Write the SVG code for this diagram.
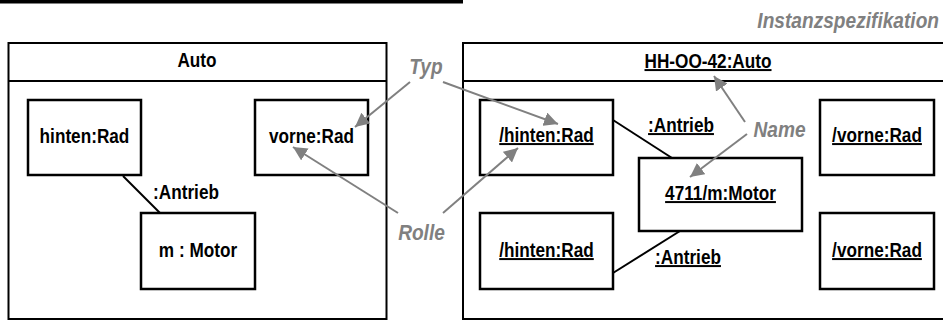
<svg xmlns="http://www.w3.org/2000/svg" width="943" height="320" viewBox="0 0 943 320">
<style>
.frame{fill:none;stroke:#000;stroke-width:2}
.box{fill:#fff;stroke:#000;stroke-width:2.5}
.t{font-family:"Liberation Sans",Arial,sans-serif;font-weight:bold;font-size:20px;fill:#000;text-anchor:middle}
.u{text-decoration:underline}
.g{font-family:"Liberation Sans",Arial,sans-serif;font-weight:bold;font-style:italic;font-size:22.5px;fill:#808080}
.link{stroke:#000;stroke-width:2;fill:none}
.ga{stroke:#808080;stroke-width:2;fill:none;marker-end:url(#ah)}
</style>
<defs>
<marker id="ah" markerUnits="userSpaceOnUse" markerWidth="16" markerHeight="14" refX="14" refY="7" orient="auto">
<path d="M0,0 L14,7 L0,14 Z" fill="#808080"/>
</marker>
</defs>
<rect x="0" y="0" width="463" height="3.5" fill="#000"/>
<text class="g" transform="translate(939 28) scale(0.85 1)" text-anchor="end">Instanzspezifikation</text>

<g id="auto-class">
<rect class="frame" x="8.5" y="43" width="378" height="276"/>
<line class="frame" x1="8.5" y1="81" x2="386.5" y2="81"/>
<text class="t" transform="translate(197 67) scale(0.86 1)">Auto</text>
</g>
<g id="hinten-rad">
<rect class="box" x="28" y="100" width="113" height="75"/>
<text class="t" transform="translate(84.5 143) scale(0.86 1)">hinten:Rad</text>
</g>
<g id="vorne-rad">
<rect class="box" x="255" y="100" width="113" height="75"/>
<text class="t" transform="translate(311.5 143) scale(0.86 1)">vorne:Rad</text>
</g>
<g id="m-motor">
<rect class="box" x="141" y="213" width="114" height="76"/>
<text class="t" transform="translate(198 257) scale(0.86 1)">m : Motor</text>
</g>

<g id="auto-instance">
<rect class="frame" x="463" y="43" width="490" height="276"/>
<line class="frame" x1="463" y1="81" x2="945" y2="81"/>
<text class="t u" transform="translate(708 68) scale(0.86 1)">HH-OO-42:Auto</text>
</g>
<g id="hinten-rad-1">
<rect class="box" x="480" y="100" width="133" height="75"/>
<text class="t u" transform="translate(546.5 142) scale(0.86 1)">/hinten:Rad</text>
</g>
<g id="vorne-rad-1">
<rect class="box" x="820" y="100" width="114" height="75"/>
<text class="t u" transform="translate(877 142) scale(0.86 1)">/vorne:Rad</text>
</g>
<g id="motor-instance">
<rect class="box" x="639" y="158" width="163" height="73"/>
<text class="t u" transform="translate(720.5 200) scale(0.86 1)">4711/m:Motor</text>
</g>
<g id="hinten-rad-2">
<rect class="box" x="480" y="213" width="133" height="76"/>
<text class="t u" transform="translate(546.5 257) scale(0.86 1)">/hinten:Rad</text>
</g>
<g id="vorne-rad-2">
<rect class="box" x="820" y="213" width="114" height="76"/>
<text class="t u" transform="translate(877 257) scale(0.86 1)">/vorne:Rad</text>
</g>

<g id="connectors">
<line class="link" x1="123" y1="176" x2="160" y2="213"/>
<text class="t" transform="translate(186 199) scale(0.86 1)">:Antrieb</text>
<line class="link" x1="613" y1="120" x2="672" y2="158"/>
<text class="t u" transform="translate(681 132) scale(0.86 1)">:Antrieb</text>
<line class="link" x1="613" y1="273" x2="680" y2="231"/>
<text class="t u" transform="translate(688 264) scale(0.86 1)">:Antrieb</text>
</g>

<g id="annotations">
<text class="g" transform="translate(426 74) scale(0.85 1)" text-anchor="middle">Typ</text>
<text class="g" transform="translate(421.5 240) scale(0.85 1)" text-anchor="middle">Rolle</text>
<text class="g" transform="translate(779.5 137) scale(0.85 1)" text-anchor="middle">Name</text>
<line class="ga" x1="410" y1="82" x2="355" y2="127"/>
<line class="ga" x1="443" y1="82" x2="558" y2="124"/>
<line class="ga" x1="398" y1="213" x2="293" y2="147"/>
<line class="ga" x1="443" y1="213" x2="518" y2="148"/>
<line class="ga" x1="745" y1="122" x2="714" y2="76"/>
<line class="ga" x1="747" y1="134" x2="690" y2="177"/>
</g>
</svg>
